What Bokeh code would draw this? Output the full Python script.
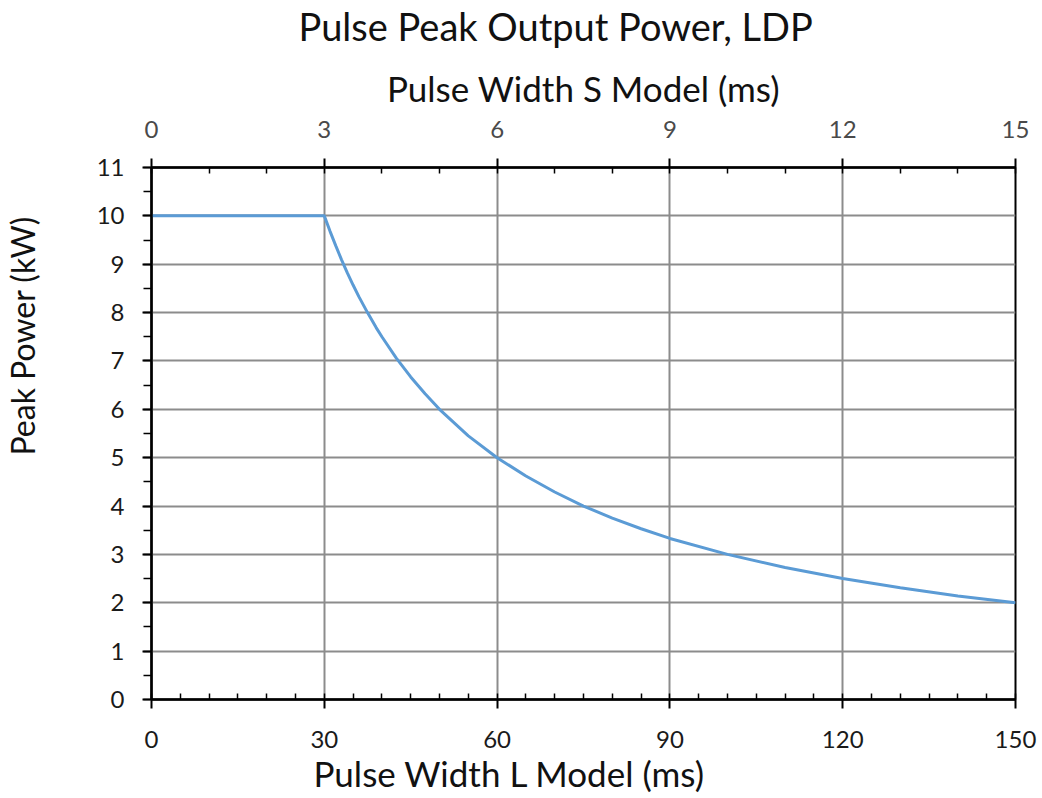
from bokeh.plotting import figure
from bokeh.models import Range1d, LinearAxis, SingleIntervalTicker, FixedTicker, Title
from bokeh.embed import file_html
from bokeh.resources import INLINE

# Data
pulse_width_l = [0, 30, 31, 32, 33, 34, 35, 36, 37.5, 39, 40, 42.5, 45, 47.5, 50, 55, 60, 65, 70,
                 75, 80, 85, 90, 100, 110, 120, 130, 140, 150]
peak_power = [10, 10, 9.68, 9.38, 9.09, 8.82, 8.57, 8.33, 8.0, 7.69, 7.5, 7.06, 6.67, 6.32, 6.0,
              5.45, 5.0, 4.62, 4.29, 4.0, 3.75, 3.53, 3.33, 3.0, 2.73, 2.5, 2.31, 2.14, 2.0]

title_text = "Pulse Peak Output Power, LDP"
x_label_bottom = "Pulse Width L Model (ms)"
x_label_top = "Pulse Width S Model (ms)"
y_label = "Peak Power (kW)"

FONT = "Lato"

p = figure(width=1042, height=798, output_backend="svg", toolbar_location=None,
           x_range=Range1d(0, 150), y_range=Range1d(0, 11), title=None,
           min_border_left=150, min_border_right=27, min_border_top=167, min_border_bottom=99,
           x_axis_location=None, y_axis_location=None)
p.background_fill_color = "white"
p.border_fill_color = "white"
p.outline_line_color = "black"
p.outline_line_width = 2

p.extra_x_ranges = {"s": Range1d(0, 15)}

xb = LinearAxis(ticker=SingleIntervalTicker(interval=30, num_minor_ticks=6))
xt = LinearAxis(x_range_name="s", ticker=SingleIntervalTicker(interval=3, num_minor_ticks=3),
                axis_label=x_label_top)
yl = LinearAxis(ticker=SingleIntervalTicker(interval=1, num_minor_ticks=2))

for ax in (xb, xt, yl):
    ax.axis_line_color = "black"
    ax.axis_line_width = 2.5
    ax.major_tick_line_color = "black"
    ax.major_tick_line_width = 2
    ax.minor_tick_line_color = "black"
    ax.minor_tick_line_width = 1.5
    ax.major_tick_in = 0
    ax.major_tick_out = 9
    ax.major_label_text_font = FONT
    ax.major_label_text_font_size = "24px"
    ax.major_label_text_color = "#1a1a1a"
    ax.axis_label_text_font = FONT
    ax.axis_label_text_font_size = "35px"
    ax.axis_label_text_font_style = "normal"
    ax.axis_label_text_color = "#111111"

xb.minor_tick_in = 6
xb.minor_tick_out = 0
xb.major_label_standoff = 22

xt.minor_tick_in = 6
xt.minor_tick_out = 0
xt.major_label_standoff = 21
xt.axis_label_standoff = 9
xt.major_label_text_color = "#4a4a4a"

yl.minor_tick_in = 0
yl.minor_tick_out = 8
yl.major_label_standoff = 18


def spacer(size):
    # an axis with one white (invisible) tick and no label: it only reserves space
    ax = LinearAxis(ticker=FixedTicker(ticks=[0], minor_ticks=[]))
    ax.major_label_overrides = {0: ""}
    ax.axis_line_color = None
    ax.major_tick_line_color = "white"
    ax.major_tick_line_width = 1
    ax.minor_tick_line_color = None
    ax.major_tick_in = 0
    ax.major_tick_out = size
    ax.minor_tick_in = 0
    ax.minor_tick_out = 0
    ax.major_label_standoff = 0
    ax.major_label_text_font_size = "1px"
    ax.axis_label_standoff = 0
    return ax


p.add_layout(xb, "below")
p.add_layout(Title(text=x_label_bottom, text_font=FONT, text_font_size="35px",
                   text_font_style="normal", text_color="#111111",
                   align="left", offset=162, vertical_align="top", standoff=2), "below")

p.add_layout(xt, "above")
p.add_layout(spacer(15), "above")
p.add_layout(Title(text=title_text, text_font=FONT, text_font_size="38px",
                   text_font_style="normal", text_color="#111111",
                   align="left", offset=147, standoff=0), "above")

p.add_layout(yl, "left")
p.add_layout(spacer(52), "left")
p.add_layout(Title(text=y_label, text_font=FONT, text_font_size="32px",
                   text_font_style="normal", text_color="#111111",
                   align="left", offset=244, standoff=0), "left")

p.xgrid.ticker = xb.ticker
p.ygrid.ticker = yl.ticker
p.xgrid.grid_line_color = "#8c8c8c"
p.ygrid.grid_line_color = "#8c8c8c"
p.xgrid.grid_line_width = 2
p.ygrid.grid_line_width = 2

p.line(pulse_width_l, peak_power, line_color="#5B9BD5", line_width=3)

open("out.html", "w").write(file_html(p, INLINE))
